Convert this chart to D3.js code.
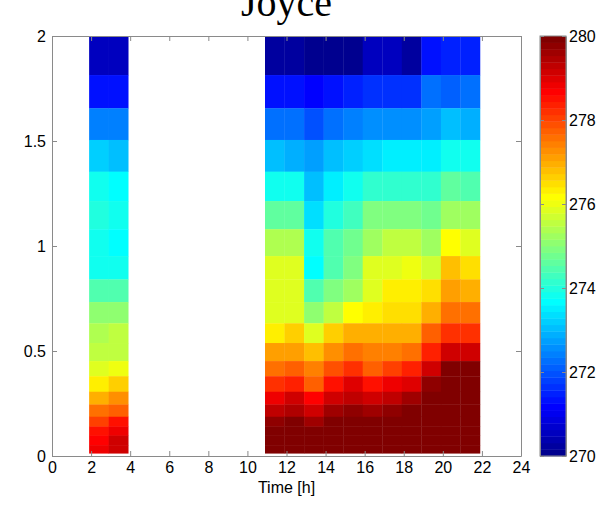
<!DOCTYPE html>
<html><head><meta charset="utf-8">
<script src="https://cdn.jsdelivr.net/npm/d3@7"></script>
<style>body{margin:0;background:#fff} svg{display:block}</style>
</head><body><svg id="chart" width="607" height="506"></svg>
<script>
// ---------- data ----------
const title = "Joyce";
const xLabel = "Time [h]";
const times = [2.4, 3.4, 11.4, 12.4, 13.4, 14.4, 15.4, 16.4, 17.4, 18.4, 19.4, 20.4, 21.4]; // column centres [h]
const cellHours = 1;
// height level edges [km], top to bottom
const heightEdges = [2.0, 1.814, 1.656, 1.505, 1.354, 1.214, 1.080, 0.952, 0.841, 0.733, 0.632, 0.538, 0.452, 0.380, 0.306, 0.245, 0.187, 0.140, 0.097, 0.052, 0.013];
// temperature [K]; one row per height layer (top to bottom), one value per time
const temperature = [
  [270.5, 270.5, 270.2, 270.2, 269.8, 270.0, 270.0, 270.5, 270.5, 270.3, 271.3, 271.5, 271.5],
  [271.3, 271.3, 271.3, 271.3, 271.2, 271.4, 271.5, 271.6, 271.6, 271.6, 272.2, 272.1, 272.2],
  [272.4, 272.4, 272.3, 272.3, 271.9, 272.3, 272.4, 272.6, 272.6, 272.6, 272.7, 273.1, 272.9],
  [273.2, 273.1, 273.1, 272.9, 272.7, 273.1, 273.2, 273.3, 273.5, 273.45, 273.45, 273.8, 273.75],
  [273.75, 273.6, 273.75, 273.75, 273.0, 273.5, 273.9, 274.2, 274.2, 274.2, 274.1, 274.6, 274.4],
  [273.95, 273.75, 274.6, 274.6, 273.3, 274.0, 274.3, 274.9, 274.9, 274.9, 274.8, 275.2, 275.2],
  [273.75, 273.6, 275.35, 275.35, 273.75, 274.4, 274.7, 275.3, 275.5, 275.5, 275.3, 276.1, 275.9],
  [273.8, 273.8, 275.8, 275.8, 273.7, 274.4, 274.9, 275.8, 275.8, 276.0, 275.7, 276.8, 276.5],
  [274.4, 274.4, 275.8, 275.8, 274.4, 274.9, 275.3, 275.9, 276.4, 276.4, 276.5, 277.1, 276.9],
  [275.0, 275.0, 275.9, 275.9, 275.0, 275.5, 276.2, 276.25, 276.55, 276.55, 276.9, 277.6, 277.6],
  [275.4, 275.5, 276.3, 276.6, 275.9, 276.6, 276.95, 276.95, 276.95, 276.95, 277.7, 278.2, 278.2],
  [275.5, 275.6, 277.1, 277.1, 276.8, 277.2, 277.5, 277.35, 277.35, 277.5, 278.3, 279.1, 279.1],
  [275.8, 276.0, 277.5, 277.8, 277.4, 277.9, 278.2, 277.8, 278.0, 278.3, 279.1, 279.9, 279.9],
  [276.25, 276.65, 278.2, 278.4, 277.8, 278.55, 279.0, 278.55, 278.75, 279.05, 279.7, 280.2, 280.2],
  [277.0, 277.2, 278.75, 279.1, 278.65, 279.2, 279.3, 279.2, 279.3, 279.6, 280.1, 280.3, 280.3],
  [277.5, 277.8, 279.3, 279.5, 279.1, 279.6, 279.8, 279.6, 279.8, 280.1, 280.3, 280.5, 280.5],
  [278.0, 278.45, 279.7, 280.1, 279.6, 280.2, 280.2, 280.2, 280.3, 280.4, 280.5, 280.6, 280.6],
  [278.5, 278.8, 280.3, 280.4, 280.3, 280.5, 280.5, 280.5, 280.6, 280.6, 280.7, 280.8, 280.8],
  [278.7, 279.2, 280.5, 280.6, 280.5, 280.7, 280.7, 280.7, 280.8, 280.8, 280.9, 281.0, 281.0],
  [278.8, 279.2, 280.7, 280.8, 280.7, 280.9, 280.9, 280.9, 281.0, 281.0, 281.1, 281.2, 281.2]
];
const xTicks = [0, 2, 4, 6, 8, 10, 12, 14, 16, 18, 20, 22, 24];
const yTicks = [0, 0.5, 1, 1.5, 2];
const cTicks = [270, 272, 274, 276, 278, 280];
const cRange = [270, 280];

// ---------- MATLAB jet(64) ----------
function jetMap(m) {
  const n = Math.ceil(m / 4);
  const u = [];
  for (let i = 1; i <= n; i++) u.push(i / n);
  for (let i = 1; i < n; i++) u.push(1);
  for (let i = n; i >= 1; i--) u.push(i / n);
  const g0 = Math.ceil(n / 2) - (m % 4 === 1 ? 1 : 0);
  const J = Array.from({length: m}, () => [0, 0, 0]);
  u.forEach((val, k) => {
    const g = g0 + k + 1, r = g + n, b = g - n;
    if (r >= 1 && r <= m) J[r - 1][0] = val;
    if (g >= 1 && g <= m) J[g - 1][1] = val;
    if (b >= 1 && b <= m) J[b - 1][2] = val;
  });
  return J.map(c => d3.rgb(c[0] * 255, c[1] * 255, c[2] * 255).formatHex());
}
const jet = jetMap(64);
const colorIndex = d3.scaleQuantize().domain(cRange).range(d3.range(64));
const colorOf = v => jet[colorIndex(Math.max(cRange[0], Math.min(cRange[1] - 1e-9, v)))];

// ---------- layout ----------
const svg = d3.select("#chart");
const L = 52, R = 521, T = 36, B = 456;
const x = d3.scaleLinear().domain([0, 24]).range([L, R]);
const y = d3.scaleLinear().domain([0, 2]).range([B, T]);
const axisColor = "#8a8a8a";
const font = "'Liberation Sans', Arial, sans-serif";

// cells
const cells = [];
temperature.forEach((row, i) => row.forEach((v, j) => cells.push({
  t0: times[j] - cellHours / 2, t1: times[j] + cellHours / 2,
  h0: heightEdges[i + 1], h1: heightEdges[i], v
})));
svg.append("g").selectAll("rect").data(cells).join("rect")
  .attr("x", d => x(d.t0)).attr("width", d => x(d.t1) - x(d.t0) + 0.3)
  .attr("y", d => y(d.h1)).attr("height", d => y(d.h0) - y(d.h1) + 0.3)
  .attr("fill", d => colorOf(d.v));

// axes
function styleAxis(g, labels) {
  g.select(".domain").attr("stroke", axisColor);
  g.selectAll(".tick line").attr("stroke", axisColor);
  g.selectAll(".tick text").attr("fill", "#000").style("font-family", font).style("font-size", "16px");
  if (!labels) g.selectAll(".tick text").remove();
}
svg.append("g").attr("transform", `translate(0,${B})`)
  .call(d3.axisBottom(x).tickValues(xTicks).tickFormat(d3.format("d")).tickSizeInner(-5).tickSizeOuter(0).tickPadding(6))
  .call(g => styleAxis(g, true));
svg.append("g").attr("transform", `translate(0,${T})`)
  .call(d3.axisTop(x).tickValues(xTicks).tickSizeInner(-5).tickSizeOuter(0))
  .call(g => styleAxis(g, false));
svg.append("g").attr("transform", `translate(${L},0)`)
  .call(d3.axisLeft(y).tickValues(yTicks).tickFormat(d => d3.format("")(d)).tickSizeInner(-5).tickSizeOuter(0).tickPadding(6))
  .call(g => styleAxis(g, true));
svg.append("g").attr("transform", `translate(${R},0)`)
  .call(d3.axisRight(y).tickValues(yTicks).tickSizeInner(-5).tickSizeOuter(0))
  .call(g => styleAxis(g, false));

svg.append("text").attr("x", (L + R) / 2).attr("y", 493).attr("text-anchor", "middle")
  .style("font-family", font).style("font-size", "16px").text(xLabel);
svg.append("text").attr("x", (L + R) / 2).attr("y", 16).attr("text-anchor", "middle")
  .style("font-family", "'Liberation Serif', 'Times New Roman', serif").style("font-size", "40px").text(title);

// colorbar
const CL = 540, CR = 566;
const cy = d3.scaleLinear().domain(cRange).range([B, T]);
const levels = d3.range(64);
svg.append("g").selectAll("rect").data(levels).join("rect")
  .attr("x", CL).attr("width", CR - CL)
  .attr("y", i => cy(cRange[0] + (i + 1) * (cRange[1] - cRange[0]) / 64))
  .attr("height", (B - T) / 64 + 0.4)
  .attr("fill", i => jet[i]);
svg.append("rect").attr("x", CL).attr("y", T).attr("width", CR - CL).attr("height", B - T)
  .attr("fill", "none").attr("stroke", axisColor);
svg.append("g").attr("transform", `translate(${CR},0)`)
  .call(d3.axisRight(cy).tickValues(cTicks).tickFormat(d3.format("d")).tickSizeInner(-4).tickSizeOuter(0).tickPadding(3))
  .call(g => styleAxis(g, true));
svg.append("g").attr("transform", `translate(${CL},0)`)
  .call(d3.axisLeft(cy).tickValues(cTicks).tickSizeInner(-4).tickSizeOuter(0))
  .call(g => styleAxis(g, false));
</script></body></html>
